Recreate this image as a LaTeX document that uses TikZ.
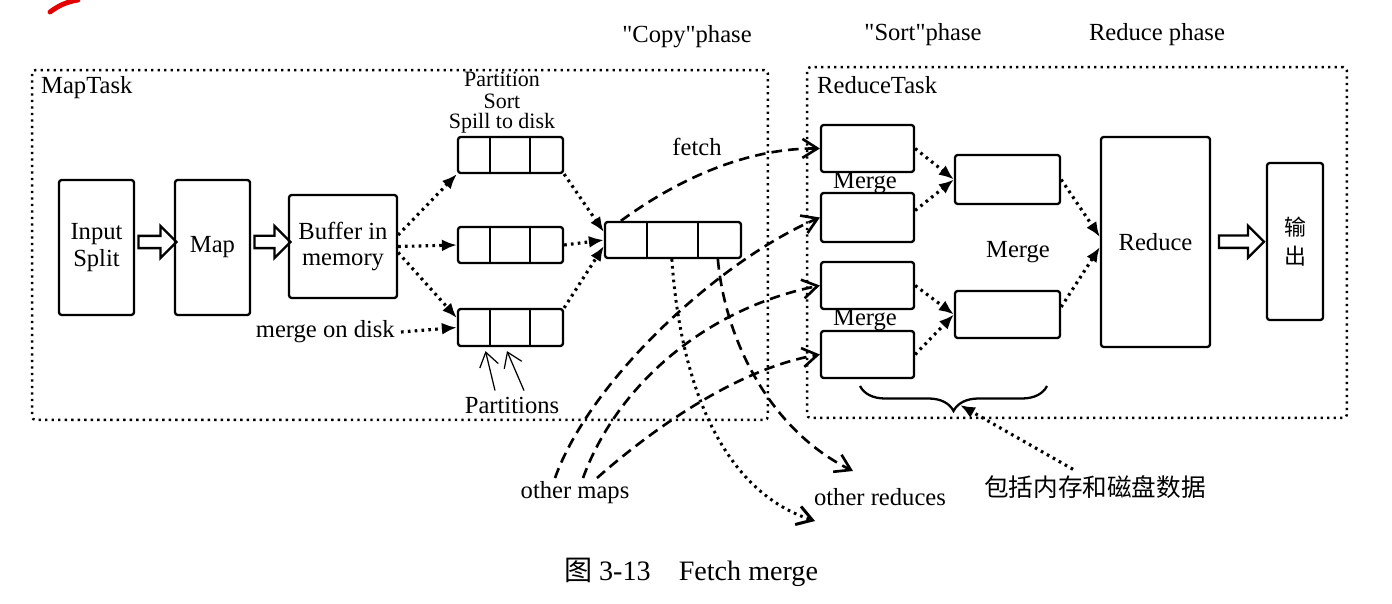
\documentclass[tikz,border=0pt]{standalone}
\usepackage{fontspec}
\setmainfont{Liberation Serif}
\newfontfamily\cjk{Noto Sans CJK SC}
\usetikzlibrary{arrows.meta,shapes.arrows,decorations.pathreplacing,calc}
\tikzset{
  >={Latex[length=3mm,width=2.4mm]},
}
\tikzstyle{every node}=[font=\fontsize{14}{15.3}\selectfont]
\tikzstyle{box}=[draw,line width=1.3pt,rounded corners=1.5pt,inner sep=0pt]
\tikzstyle{region}=[draw,line width=1.4pt,dash pattern=on 1.3pt off 2.4pt,rounded corners=2pt,inner sep=0pt]
\tikzstyle{flow}=[line width=1.8pt,dash pattern=on 1.5pt off 2.4pt,->]
\tikzstyle{fetchline}=[line width=1.5pt,dash pattern=on 6pt off 3.5pt,-{Straight Barb[length=3mm,width=3.8mm]}]
\tikzstyle{spreadline}=[line width=1.7pt,dash pattern=on 1.5pt off 2.4pt,-{Straight Barb[length=3mm,width=3.8mm]}]
\tikzstyle{thinarrow}=[line width=0.7pt,-{Straight Barb[length=2.8mm,width=3.8mm]}]
\tikzstyle{bigarrow}=[draw,single arrow,line width=1.3pt,inner sep=0.1cm,single arrow head extend=0.2cm]
\tikzstyle{stacklbl}=[font=\fontsize{12.5}{12}\selectfont,inner sep=0pt]

\begin{document}
\begin{tikzpicture}[x=0.02cm,y=-0.02cm]
  \useasboundingbox (0,0) rectangle (1392,604);
  \draw[red!90!black,line width=2.8pt,line cap=round] (50,12) .. controls (58,6) and (66,2) .. (78,0);
  % tasks
  \node[region,minimum width=14.72cm,minimum height=7cm] (maptask) at (400,245) {};
  \node[anchor=west] (maptasklbl) at (35,88) {MapTask};
  \node[region,minimum width=10.8cm,minimum height=7.02cm] (reducetask) at (1077,242.5) {};
  \node[anchor=west] (reducetasklbl) at (811,85) {ReduceTask};
  \node (copylbl) at (687,37) {\textquotedbl Copy\textquotedbl phase};
  \node (sortlbl) at (923,35) {\textquotedbl Sort\textquotedbl phase};
  \node (reducelbl) at (1157,35) {Reduce phase};
  % map side
  \node[box,minimum width=1.5cm,minimum height=2.7cm,align=center] (input) at (96.5,247.5) {Input\\Split};
  \node[box,minimum width=1.5cm,minimum height=2.7cm] (map) at (212.5,247.5) {Map};
  \node[box,minimum width=2.16cm,minimum height=2.06cm,align=center] (buffer) at (343,246.5) {Buffer in\\memory};
  \node[bigarrow,minimum height=0.76cm,yshift=0.11cm] (arrA) at ($(input.east)!0.5!(map.west)$) {};
  \node[bigarrow,minimum height=0.72cm,yshift=0.1cm] (arrB) at ($(map.east)!0.5!(buffer.west)$) {};
  \node[box,minimum width=2.1cm,minimum height=0.72cm] (spillTop) at (510.5,155) {};
  \node[box,minimum width=2.1cm,minimum height=0.72cm] (spillMid) at (510.5,245) {};
  \node[box,minimum width=2.1cm,minimum height=0.74cm] (spillBot) at (510.5,327.5) {};
  \node[box,minimum width=2.72cm,minimum height=0.72cm] (copybuf) at (673,240) {};
  \foreach \row in {spillTop,spillMid,spillBot,copybuf}
    \foreach \f in {0.31,0.68}
      \draw[line width=1.3pt] ($(\row.north west)!\f!(\row.north east)$) -- ($(\row.south west)!\f!(\row.south east)$);
  \node[stacklbl] (partitionlbl) at (502,79) {Partition};
  \node[stacklbl] (sortlblB) at (502,101) {Sort};
  \node[stacklbl] (spilllbl) at (502,123) {Spill to disk};
  \node[anchor=east] (mergedisk) at (401,332) {merge on disk};
  \node (partlbl) at (512,405) {Partitions};
  \node (fetchlbl) at (697,147) {fetch};
  \draw[flow] ([yshift=0.23cm]buffer.east) -- (spillTop.south west);
  \draw[flow] (buffer.east) -- (spillMid.west);
  \draw[flow] ([yshift=-0.12cm]buffer.east) -- ([yshift=0.19cm]spillBot.west);
  \draw[flow] (mergedisk.east) -- (spillBot.west);
  \draw[flow] (spillTop.south east) -- ([yshift=0.16cm]copybuf.west);
  \draw[flow] (spillMid.east) -- (copybuf.west);
  \draw[flow] (spillBot.north east) -- ([yshift=-0.12cm]copybuf.west);
  \draw[thinarrow] ([xshift=-0.34cm]partlbl.north) -- ([xshift=-0.5cm,yshift=-0.08cm]spillBot.south);
  \draw[thinarrow] ([xshift=0.24cm]partlbl.north) -- ([xshift=-0.07cm,yshift=-0.08cm]spillBot.south);
  % reduce side
  \node[box,minimum width=1.86cm,minimum height=0.94cm] (red1) at (867.5,148.5) {};
  \node[box,minimum width=1.86cm,minimum height=0.98cm] (red2) at (867.5,217.5) {};
  \node[box,minimum width=1.86cm,minimum height=0.94cm] (red3) at (867.5,285.5) {};
  \node[box,minimum width=1.86cm,minimum height=0.94cm] (red4) at (867.5,354.5) {};
  \node[box,minimum width=2.1cm,minimum height=0.98cm] (mergeA) at (1007.5,179.5) {};
  \node[box,minimum width=2.1cm,minimum height=0.94cm] (mergeB) at (1007.5,314.5) {};
  \node[box,minimum width=2.18cm,minimum height=4.2cm] (reduce) at (1155.5,242) {Reduce};
  \node[box,minimum width=1.12cm,minimum height=3.14cm,align=center,font=\cjk\fontsize{12.5}{16.5}\selectfont] (output) at (1295,241.5) {输\\出};
  \node[bigarrow,minimum height=0.9cm] (arrC) at ($(reduce.east)!0.5!(output.west)$) {};
  \node (mergelblA) at (865,183) {Merge};
  \node (mergelblB) at (865,320) {Merge};
  \node (mergelblC) at (1018,252) {Merge};
  \draw[flow] (red1.east) -- (mergeA.west);
  \draw[flow] ([yshift=0.14cm]red2.east) -- (mergeA.west);
  \draw[flow] (red3.east) -- (mergeB.west);
  \draw[flow] (red4.east) -- (mergeB.west);
  \draw[flow] (mergeA.east) -- ([yshift=0.1cm]reduce.west);
  \draw[flow] ([yshift=0.15cm]mergeB.east) -- ([yshift=-0.1cm]reduce.west);
  \draw[line width=1.3pt,decorate,decoration={brace,mirror,amplitude=0.5cm}] (860,386) -- (1047,386);
  \coordinate (braceTip) at (960,405);
  \node[font=\cjk\fontsize{14}{15}\selectfont] (memdisk) at (1095,487) {包括内存和磁盘数据};
  \draw[flow] ([xshift=-0.44cm]memdisk.north) -- (braceTip);
  % fetch between tasks
  \node (othermaps) at (575,493) {other maps};
  \node (otherreduces) at (880,497) {other reduces};
  \coordinate (om1) at (555,478);
  \coordinate (om2) at (583,478);
  \coordinate (om3) at (597,478);
  \coordinate (orEnd) at (853,471);
  \coordinate (orEndB) at (815,521);
  \draw[fetchline] ([xshift=0.34cm]copybuf.north west) .. controls (670,185) and (740,148) .. (red1.west);
  \draw[fetchline] (om1) .. controls (590,380) and (720,260) .. (red2.west);
  \draw[fetchline] (om2) .. controls (615,390) and (700,310) .. (red3.west);
  \draw[fetchline] (om3) .. controls (640,440) and (730,370) .. (red4.west);
  \draw[fetchline] ([xshift=2.28cm]copybuf.south west) .. controls (725,340) and (770,430) .. (orEnd);
  \draw[spreadline] ([xshift=1.36cm]copybuf.south west) .. controls (680,380) and (720,490) .. (orEndB);
  \node[font=\fontsize{16}{18}\selectfont] (caption) at (691,572) {{\cjk 图} 3-13\quad Fetch merge};
\end{tikzpicture}
\end{document}
